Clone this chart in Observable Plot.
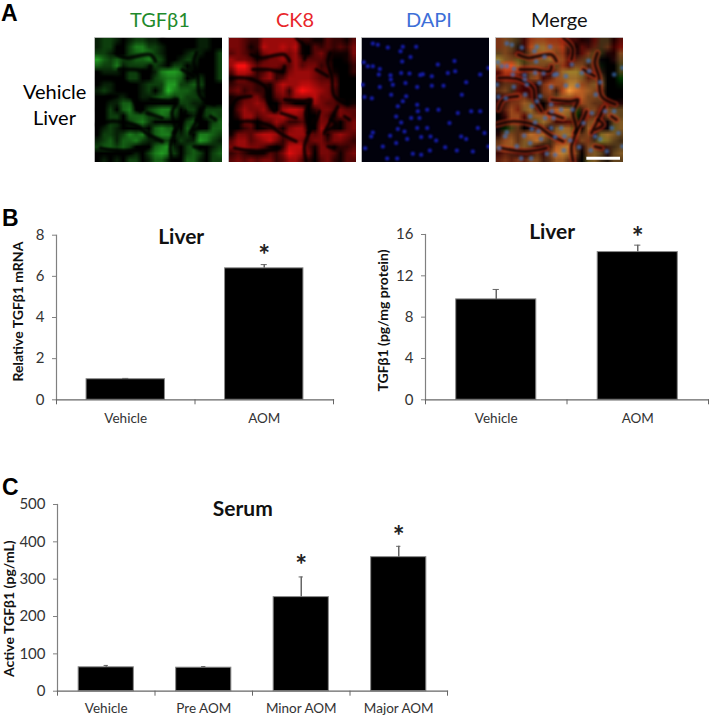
<!DOCTYPE html>
<html>
<head>
<meta charset="utf-8">
<script src="https://cdn.jsdelivr.net/npm/d3@7"></script>
<script src="https://cdn.jsdelivr.net/npm/@observablehq/plot@0.6"></script>
<style>
html,body{margin:0;padding:0;background:#fff}
#page{position:relative;width:709px;height:717px;overflow:hidden;font-family:Lato,sans-serif}
#page svg{position:absolute;overflow:hidden;background:transparent}
#page svg.chart{overflow:visible}
.t{position:absolute;white-space:nowrap;line-height:1}
.soft circle{filter:blur(.8px)}
.soft path{filter:blur(1.1px)}
</style>
</head>
<body>
<div id="page"></div>
<script>
const greenRows = [
"34431344332110113301","34421466443211123301","44312456643111343104","75454455654123441014",
"54463444343144232004","13330441036776322004","02111441245665234014","23320113444774455002",
"34310113424865543001","11233113345545444000","12335510210014433001","02425620456652441444",
"01441555456541231454","10441456411121452145","13430123156551541155","14434656356643416654",
"34535564334414337643","45545411256731451234","12211131467640454145","23232442355320553244"];
const redRows = [
"55433666666332243324","55423766767204343435","45432566656214532225","65542455656444431024",
"69964555446455341003","47763463256665442003","25533563466665444000","34443325766776555000",
"45343315637987654000","23455314546667554100","23556511431126544312","14655631677603554544",
"13664566766501542554","01551446533402553145","10340234256620652145","25546776466654525654",
"46645675356545535543","56655421377742552334","34322243587651554245","45454553466430453244"];
// Nuclei positions in the micrograph's own pixel grid
const nucleiX = [34,49,79,124,117,164,147,122,7,19,34,55,52,87,88,119,144,176,184,211,259,281,279,229,314,356,381,4,55,94,132,167,211,246,301,89,31,9,134,109,124,167,197,231,169,329,356,289,104,149,174,119,349,34,167,197,264,109,129,86,11,137,179,104,64,224,299,314,369,251,286,205,154,107,77,381,179,334,29,207];
const nucleiY = [18,22,30,28,41,28,58,72,74,86,86,94,111,113,126,106,108,112,110,116,106,101,70,81,134,111,91,141,148,141,136,148,144,144,171,171,182,178,176,206,191,201,216,216,221,221,221,226,236,241,241,254,271,284,271,271,256,274,281,294,331,304,298,316,326,308,296,304,286,328,338,338,348,362,362,326,351,341,296,296];
// Dark gaps between liver cords, traced in the micrograph's own pixel grid
const gapIds = [0,0,0,0,0, 1,1,1, 2,2,2,2,2,2, 3,3,3,3,3,3,3, 4,4,4,4,4,4, 5,5,5, 6,6,6, 7,7,7,7, 8,8,8,8, 9,9,9, 10,10,10, 11,11,12,12,13,13,14,14, 15,15,15];
const gapX = [306,298,310,318,360, 203,231,228, 8,48,73,113,118,138, 168,228,248,233,243,228,233, 3,48,98,128,163,203, 18,88,153, 8,23,68, 68,98,168,183, 73,118,163,168, 273,258,238, 288,318,328, 298,318,348,363,158,203,263,298, 308,323,298];
const gapY = [46,76,116,176,200, 1,31,66, 121,121,126,151,186,221, 186,191,186,226,276,326,371, 261,251,256,266,291,311, 331,341,331, 216,186,176, 51,61,51,71, 96,96,101,86, 221,256,286, 286,226,206, 326,331,236,246,226,241,96,116, 246,261,276];
const scaleBarX = [274, 375];
const scaleBarY = 361;

// Panel B left
const liverMrnaCats = ["Vehicle", "AOM"];
const liverMrnaVals = [1.0, 6.39];
const liverMrnaErr = [1.04, 6.57];
// Panel B right
const liverProtCats = ["Vehicle", "AOM"];
const liverProtVals = [9.72, 14.3];
const liverProtErr = [10.68, 14.97];
// Panel C
const serumCats = ["Vehicle", "Pre AOM", "Minor AOM", "Major AOM"];
const serumVals = [64, 63, 252, 359];
const serumErr = [69, 66, 306, 388];

const page = document.getElementById("page");
function place(svg, left, top){ svg.style.left = left+"px"; svg.style.top = top+"px"; page.appendChild(svg); }
function label(text, left, top, css){
  const d = document.createElement("div"); d.className = "t"; d.textContent = text;
  d.style.left = left+"px"; d.style.top = top+"px"; Object.assign(d.style, css); page.appendChild(d);
}

const flat = rows => rows.flatMap(r => Array.from(r, Number));
const G = flat(greenRows), R = flat(redRows);
const nuclei = nucleiX.map((x,i)=>({x, y:nucleiY[i]}));
const gaps = gapX.map((x,i)=>({x, y:gapY[i], id:gapIds[i]}));
const gapLine = (stroke, strokeWidth, strokeOpacity=1) => Plot.line(gaps,{x:"x", y:"y", z:"id", stroke, strokeWidth, strokeOpacity, curve:"catmull-rom"});

function micro(values, color, extra=[]){
  return Plot.plot({
    width:128, height:125, margin:0, className:"soft",
    x:{domain:[0,384], axis:null}, y:{domain:[374,0], axis:null},
    color: color,
    marks:[
      Plot.raster(values, {width:20, height:20, x1:0, x2:384, y1:0, y2:374, fill:d=>d, imageRendering:"auto"}),
      ...extra,
      Plot.frame({stroke:"#c4c4c4", strokeWidth:.8})
    ]
  });
}
place(micro(G, {type:"linear", domain:[2,9], range:["#000","#2fd82f"], clamp:true}, [gapLine("#000",4,.85)]), 94, 37);
place(micro(R, {type:"linear", domain:[1.5,9], range:["#000","#ff1010"], clamp:true}, [gapLine("#000",3.5,.85)]), 228, 37);
place(Plot.plot({
  width:128, height:125, margin:0, className:"soft",
  x:{domain:[0,384], axis:null}, y:{domain:[374,0], axis:null},
  marks:[
    Plot.frame({fill:"#01010c", stroke:"#c4c4c4", strokeWidth:.8}),
    Plot.dot(nuclei,{x:"x", y:"y", r:2, fill:"#1820c0"})
  ]
}), 361, 37);
const M = G.map((g,i)=>{const r=R[i]; return `rgb(${Math.max(0,r*28+g*2-24)},${Math.max(0,g*18+r*3-18)},${Math.min(r,g)*7})`;});
place(micro(M, {type:"identity"}, [
  gapLine("#e0381c",6,.6),
  gapLine("#000",3,.85),
  Plot.dot(nuclei,{x:"x", y:"y", r:2.4, fill:"#3f70b8", fillOpacity:.7}),
  Plot.ruleY([scaleBarY],{x1:scaleBarX[0], x2:scaleBarX[1], stroke:"#fff", strokeWidth:3})
]), 495, 37);

function barChart({cats, vals, err, title, titleAt, yLabel, yLabelAt, yDomain, yTicks, width, height, ml, mt, mb, mr, star, starIdx, capHalf, labelDx, xPad}){
  const n = cats.length, idx = d3.range(n), gap = .217;
  const gray = "#808080", ink = "#333";
  return Plot.plot({
    width, height, marginLeft:ml, marginTop:mt, marginBottom:mb, marginRight:mr, className:"chart",
    style:{fontFamily:"Lato,sans-serif"},
    x:{domain:[0,n], axis:null},
    y:{domain:yDomain, axis:null},
    marks:[
      Plot.rectY(idx,{x1:i=>i+gap, x2:i=>i+1-gap, y1:0, y2:i=>vals[i], fill:"#000", stroke:"#8a8a8a", strokeWidth:1}),
      Plot.ruleX(idx,{x:i=>i+.5, y1:i=>vals[i], y2:i=>err[i], stroke:"#666", strokeWidth:1.5}),
      Plot.ruleY(idx,{y:i=>err[i], x1:i=>i+.5-capHalf, x2:i=>i+.5+capHalf, stroke:"#666", strokeWidth:1}),
      Plot.frame({anchor:"left", stroke:gray, strokeWidth:1.2}),
      Plot.frame({anchor:"bottom", stroke:"#666", strokeWidth:1.2}),
      Plot.axisY({ticks:yTicks, tickSize:4, tickPadding:8, stroke:gray, fill:ink, fontSize:15, label:null, tickFormat:d=>d}),
      Plot.axisX({ticks:d3.range(n+1), tickSize:5, tickFormat:()=>"", stroke:"#666", label:null}),
      Plot.axisX({ticks:idx.map(i=>i+.5), tickSize:0, tickPadding:xPad, stroke:"none", fill:ink, fontSize:13.5, label:null, tickFormat:d=>cats[Math.floor(d)]}),
      Plot.text([title],{x:titleAt[0], y:titleAt[1], fontSize:21, fontWeight:700, fill:"#111"}),
      Plot.text(starIdx,{x:i=>i+.5, y:i=>star[starIdx.indexOf(i)], text:()=>"*", fontSize:28, fontWeight:700, fill:"#222"}),
      Plot.text([yLabel],{frameAnchor:"left", textAnchor:"middle", y:yLabelAt, dx:labelDx, rotate:-90, fontSize:14, fontWeight:700, fill:"#111"})
    ]
  });
}

place(barChart({cats:liverMrnaCats, vals:liverMrnaVals, err:liverMrnaErr, title:"Liver", titleAt:[.9,7.9],
  yLabel:"Relative TGFβ1 mRNA", yLabelAt:4.29, yDomain:[0,8], yTicks:[0,2,4,6,8],
  width:345, height:215, ml:56, mr:12, mt:14.7, mb:35.7, star:[7.0], starIdx:[1], capHalf:.022, labelDx:-38, xPad:14}), 0, 220);
place(barChart({cats:liverProtCats, vals:liverProtVals, err:liverProtErr, title:"Liver", titleAt:[.895,16.2],
  yLabel:"TGFβ1 (pg/mg protein)", yLabelAt:7.68, yDomain:[0,16], yTicks:[0,4,8,12,16],
  width:358, height:215, ml:75, mr:0, mt:14, mb:35.7, star:[15.7], starIdx:[1], capHalf:.022, labelDx:-42, xPad:14}), 350, 220);
place(barChart({cats:serumCats, vals:serumVals, err:serumErr, title:"Serum", titleAt:[1.9,487],
  yLabel:"Active TGFβ1 (pg/mL)", yLabelAt:221, yDomain:[0,500], yTicks:[0,100,200,300,400,500],
  width:460, height:227, ml:57, mr:13, mt:14, mb:26.3, star:[336,412], starIdx:[2,3], capHalf:.022, labelDx:-47.5, xPad:12}), 0, 490);

const letter = {fontFamily:"'Liberation Sans',sans-serif", fontWeight:700, fontSize:"23px", color:"#000"};
label("A", 1, 2, letter);
label("B", 2, 207, letter);
label("C", 2, 476, letter);
const head = {fontFamily:"Lato,sans-serif", fontSize:"20px"};
label("TGFβ1", 130, 9, {...head, color:"#1f8a2c"});
label("CK8", 276, 9, {...head, color:"#e8262a"});
label("DAPI", 406, 9, {...head, color:"#3d6fd8"});
label("Merge", 531, 9, {...head, color:"#111"});
label("Vehicle", 23, 81, {...head});
label("Liver", 33, 107, {...head});
</script>
</body>
</html>
